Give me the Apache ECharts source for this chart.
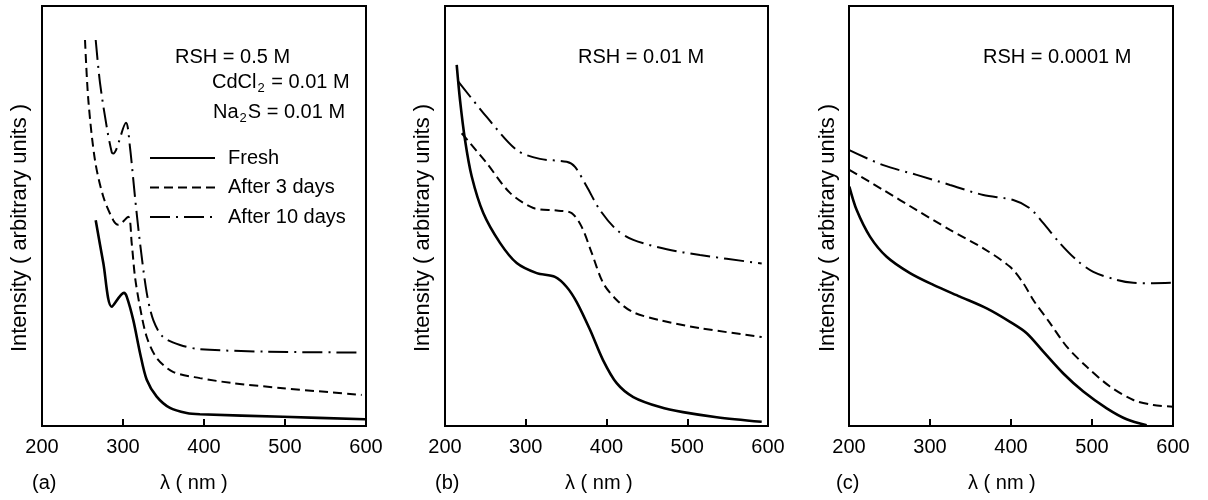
<!DOCTYPE html>
<html>
<head>
<meta charset="utf-8">
<script src="https://cdn.jsdelivr.net/npm/echarts@6/dist/echarts.min.js"></script>
<style>html,body{margin:0;padding:0;background:#fff}#c{width:1208px;height:500px}</style>
</head>
<body>
<div id="c"></div>
<script>
// wavelength (nm), intensity (arbitrary units, 0-100)
const xTicks = [200, 300, 400, 500, 600];
const seriesNames = ['Fresh', 'After 3 days', 'After 10 days'];
const panelLabels = ['(a)', '(b)', '(c)'];
const panelTitles = ['RSH = 0.5 M', 'RSH = 0.01 M', 'RSH = 0.0001 M'];

const aFresh = [[266.3,49.0],[275.7,38.8],[286.1,28.4],[301.2,31.7],[304.6,30.8],[312.7,25.2],[321,17.4],[329.3,11.0],[341.6,7.0],[358,4.3],[378.6,3.1],[395,2.8],[497.5,2.2],[598.8,1.6]];
const a3days = [[253.1,91.9],[257.2,77.6],[265.4,63.3],[275.7,54.6],[288,49.0],[294.2,47.9],[306.5,49.8],[310.7,43.6],[314.8,35.5],[321,28.3],[329.3,21.2],[341.6,16.2],[361.7,12.9],[395,11.4],[435.8,10.2],[497.5,9.0],[594.7,7.4]];
const a10days = [[266.3,91.9],[271.6,81.7],[279.9,71.2],[286.1,65.2],[288,64.9],[303.7,72.2],[308.6,66.4],[314.8,54.5],[321,43.6],[329.3,31.7],[337.4,25.2],[349.4,21.2],[370.4,19.3],[395,18.3],[477.4,17.7],[592.6,17.5]];

const bFresh = [[214.5,86.0],[218.6,77.6],[224.8,68.1],[233.1,59.4],[247.4,50.7],[268.1,43.6],[288.8,38.8],[313.6,36.4],[336.2,35.5],[350.7,33.1],[363.1,29.5],[379.6,22.9],[395.7,15.7],[412.6,10.2],[433.2,6.9],[466.3,4.5],[494.7,3.3],[536.5,2.1],[592.2,1.0]];
const b3days = [[220.7,69.7],[251.6,62.6],[280.5,55.5],[309.4,51.9],[338.3,51.3],[356.9,50.7],[369.3,47.4],[381.7,41.2],[396,34.0],[412.6,30.0],[432.8,27.1],[466.3,25.2],[515.8,23.3],[592.2,21.2]];
const b10days = [[216.5,82.0],[251.6,73.6],[288.8,65.7],[317.6,63.6],[350.7,62.9],[361,61.7],[375.5,57.0],[392,51.4],[412.6,46.7],[433.2,44.3],[474.6,42.1],[515.8,40.7],[592.2,38.7]];

const cFresh = [[200.4,57.0],[209.5,51.4],[225.9,45.1],[246.5,40.3],[275.3,36.4],[304.1,33.6],[337,30.8],[370,28.0],[398.8,24.8],[419.4,22.1],[439.9,17.7],[464.6,12.5],[489.3,8.2],[518.2,4.2],[542.8,1.6],[567.5,0.2]];
const c3days = [[200.4,61.0],[242.3,56.2],[283.6,51.4],[324.7,46.7],[365.8,42.3],[398.8,37.9],[415.2,34.0],[427.5,30.0],[448.2,24.5],[468.8,18.9],[493.5,14.1],[522.2,9.4],[551,6.2],[575.7,5.0],[599.6,4.6]];
const c10days = [[200.4,65.7],[242.3,62.1],[283.6,59.8],[324.7,57.4],[365.8,55.0],[402.8,53.8],[423.5,51.8],[439.9,48.3],[460.5,43.5],[481.1,39.5],[501.6,36.7],[530.5,34.8],[551,34.1],[575.7,34.0],[599.6,34.1]];

const panels = [[aFresh, a3days, a10days], [bFresh, b3days, b10days], [cFresh, c3days, c10days]];

const FONT = 'Liberation Sans, Arial, sans-serif';
const lefts = [42, 445, 849];
const widths = [324, 323, 324];
const styles = [
  {type: 'solid', width: 2.6},
  {type: [9, 5], width: 2},
  {type: [20, 6, 2, 6], width: 2}
];

const grids = [], xAxes = [], yAxes = [], series = [];
lefts.forEach((l, i) => {
  grids.push({left: l, width: widths[i], top: 6, bottom: 74, show: true, borderColor: '#000', borderWidth: 2, containLabel: false});
  xAxes.push({
    type: 'value', gridIndex: i, min: xTicks[0], max: xTicks[xTicks.length - 1], interval: 100,
    axisLine: {show: true, lineStyle: {color: '#000', width: 2}},
    axisTick: {show: true, inside: true, length: 7, lineStyle: {color: '#000', width: 2}},
    axisLabel: {show: true, color: '#000', fontSize: 20, fontFamily: FONT, margin: 11},
    splitLine: {show: false}
  });
  yAxes.push({
    type: 'value', gridIndex: i, min: 0, max: 100,
    axisLine: {show: true, lineStyle: {color: '#000', width: 2}},
    axisTick: {show: false}, axisLabel: {show: false}, splitLine: {show: false}
  });
  panels[i].forEach((d, k) => {
    series.push({
      name: seriesNames[k], type: 'line', xAxisIndex: i, yAxisIndex: i, data: d,
      showSymbol: false, symbol: 'none', smooth: 0.3,
      lineStyle: Object.assign({color: '#000', cap: 'butt'}, styles[k]),
      itemStyle: {color: '#000'}, silent: true, animation: false
    });
  });
});

const graphic = [];
const titleX = [175, 578, 983];
titleX.forEach((x, i) => graphic.push({type: 'text', x: x, y: 57, style: {text: panelTitles[i], font: '20px ' + FONT, fill: '#000', verticalAlign: 'middle'}}));
graphic.push({type: 'text', x: 212, y: 82, style: {
  text: '{n|CdCl}{s|2}{n| = 0.01 M}', verticalAlign: 'middle', fill: '#000',
  rich: {n: {fontSize: 20, fontFamily: FONT, lineHeight: 20, verticalAlign: 'top', fill: '#000'}, s: {fontSize: 13, fontFamily: FONT, lineHeight: 13, verticalAlign: 'top', padding: [10, 1, 0, 1], fill: '#000'}}
}});
graphic.push({type: 'text', x: 213, y: 112, style: {
  text: '{n|Na}{s|2}{n|S = 0.01 M}', verticalAlign: 'middle', fill: '#000',
  rich: {n: {fontSize: 20, fontFamily: FONT, lineHeight: 20, verticalAlign: 'top', fill: '#000'}, s: {fontSize: 13, fontFamily: FONT, lineHeight: 13, verticalAlign: 'top', padding: [10, 1, 0, 1], fill: '#000'}}
}});
const labX = [32, 435, 836];
const lamX = [160, 565, 968];
const yTitleX = [20, 423, 828];
for (let i = 0; i < 3; i++) {
  graphic.push({type: 'text', x: labX[i], y: 483, style: {text: panelLabels[i], font: '20px ' + FONT, fill: '#000', verticalAlign: 'middle'}});
  graphic.push({type: 'text', x: lamX[i], y: 483, style: {text: 'λ ( nm )', font: '20px ' + FONT, fill: '#000', verticalAlign: 'middle'}});
  graphic.push({type: 'text', x: yTitleX[i], y: 228, rotation: Math.PI / 2, style: {text: 'Intensity ( arbitrary units )', font: '22px ' + FONT, fill: '#000', align: 'center', verticalAlign: 'middle'}});
}

const chart = echarts.init(document.getElementById('c'), null, {renderer: 'canvas'});
chart.setOption({
  backgroundColor: '#fff',
  animation: false,
  grid: grids, xAxis: xAxes, yAxis: yAxes, series: series,
  legend: {
    data: seriesNames, orient: 'vertical', left: 149, top: 148, padding: 0,
    itemWidth: 65, itemHeight: 14, itemGap: 9.5, selectedMode: false,
    itemStyle: {opacity: 0},
    textStyle: {color: '#000', fontSize: 20, fontFamily: FONT, padding: [0, 0, 0, 8]}
  },
  graphic: graphic
});
</script>
</body>
</html>
